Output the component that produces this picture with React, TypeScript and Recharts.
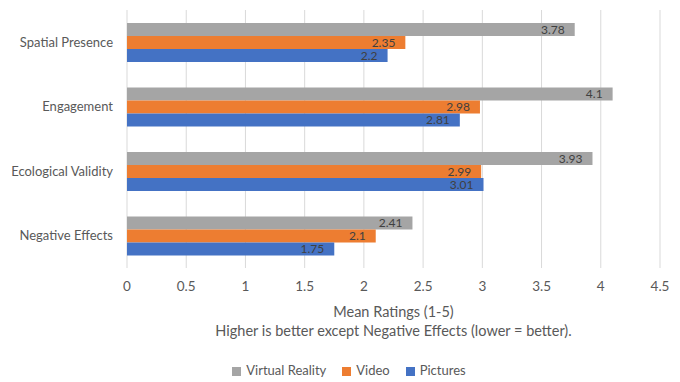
import { BarChart, Bar, XAxis, YAxis, CartesianGrid, Legend, LabelList, Label } from 'recharts';

const categories = ['Spatial Presence', 'Engagement', 'Ecological Validity', 'Negative Effects'];
const virtualReality = [3.78, 4.1, 3.93, 2.41];
const video = [2.35, 2.98, 2.99, 2.1];
const pictures = [2.2, 2.81, 3.01, 1.75];
const xTicks = [0, 0.5, 1, 1.5, 2, 2.5, 3, 3.5, 4, 4.5];
const seriesOrder = ['Virtual Reality', 'Video', 'Pictures'];

const FONT = 'Lato, "Noto Sans", sans-serif';
const TEXT = '#595959';

const data = categories.map((name, i) => ({
  name,
  vr: virtualReality[i],
  video: video[i],
  pictures: pictures[i],
}));

function AxisTitle(props: any) {
  const { viewBox } = props;
  const cx = viewBox.x + viewBox.width / 2;
  const y = viewBox.y;
  return (
    <g>
      <text x={cx} y={y + 49} textAnchor="middle" fill={TEXT} fontSize={14.5} fontFamily={FONT}>
        Mean Ratings (1-5)
      </text>
      <text x={cx} y={y + 68} textAnchor="middle" fill={TEXT} fontSize={14.5} fontFamily={FONT}>
        Higher is better except Negative Effects (lower = better).
      </text>
    </g>
  );
}

export default function App() {
  return (
    <div style={{ position: 'absolute', left: 0, top: 0, background: '#fff' }}>
      <BarChart
        width={680}
        height={382}
        data={data}
        layout="vertical"
        margin={{ top: 10, right: 20, left: 0, bottom: 0 }}
        barSize={13}
        barGap={0}
      >
        <CartesianGrid stroke="#d9d9d9" horizontal={false} />
        <XAxis
          type="number"
          domain={[0, 4.5]}
          ticks={xTicks}
          axisLine={false}
          tickLine={false}
          tickSize={0}
          tickMargin={13}
          height={94}
          tick={{ fill: TEXT, fontSize: 13.5, fontFamily: FONT }}
        >
          <Label content={AxisTitle} />
        </XAxis>
        <YAxis
          type="category"
          dataKey="name"
          width={127}
          axisLine={false}
          tickLine={false}
          tickSize={0}
          tickMargin={14}
          tick={{ fill: TEXT, fontSize: 13, fontFamily: FONT }}
        />
        <Legend
          verticalAlign="bottom"
          iconType="square"
          iconSize={9}
          itemSorter={(item: any) => seriesOrder.indexOf(item.value)}
          wrapperStyle={{ fontFamily: FONT, fontSize: 13, color: TEXT, paddingBottom: 4, paddingLeft: 27 }}
          formatter={(value) => <span style={{ color: TEXT, marginRight: 6, marginLeft: 1 }}>{value}</span>}
        />
        <Bar dataKey="vr" name="Virtual Reality" fill="#a5a5a5" isAnimationActive={false}>
          <LabelList dataKey="vr" position="insideRight" offset={10} fill="#404040" fontSize={12} fontFamily={FONT} />
        </Bar>
        <Bar dataKey="video" name="Video" fill="#ed7d31" isAnimationActive={false}>
          <LabelList dataKey="video" position="insideRight" offset={10} fill="#404040" fontSize={12} fontFamily={FONT} />
        </Bar>
        <Bar dataKey="pictures" name="Pictures" fill="#4472c4" isAnimationActive={false}>
          <LabelList dataKey="pictures" position="insideRight" offset={10} fill="#404040" fontSize={12} fontFamily={FONT} />
        </Bar>
      </BarChart>
    </div>
  );
}
